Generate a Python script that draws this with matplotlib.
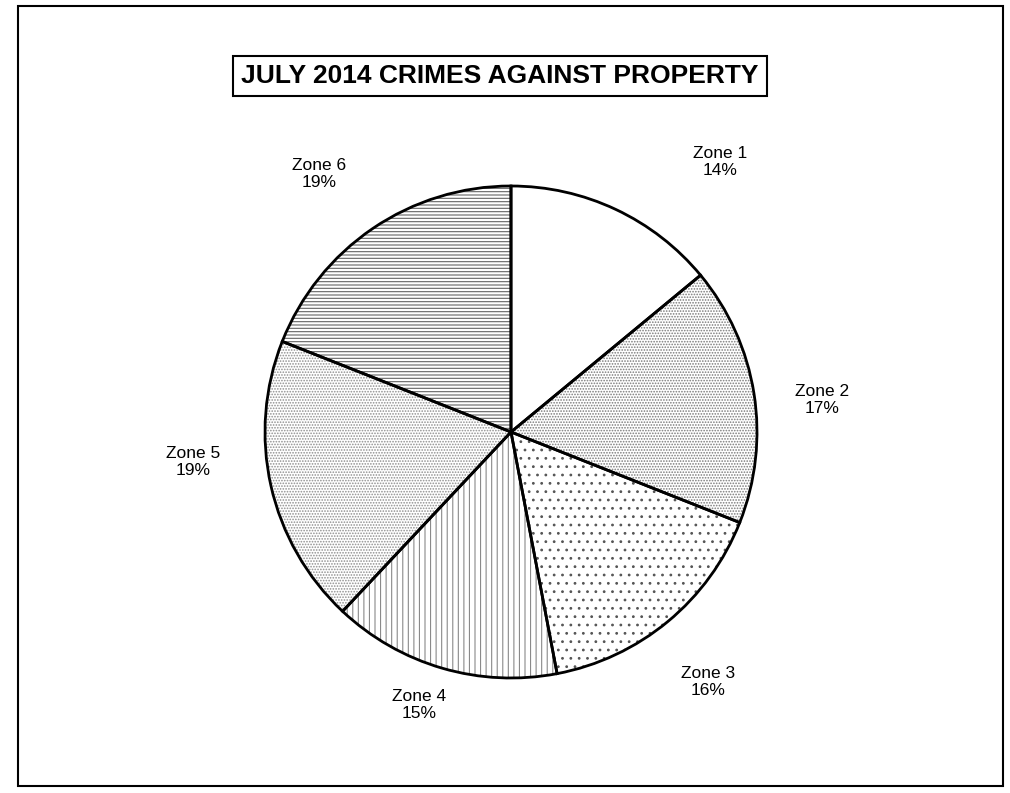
import matplotlib.pyplot as plt
from matplotlib.patches import Rectangle

plt.rcParams['font.family'] = ['Liberation Sans', 'DejaVu Sans']

# data
zones = ['Zone 1', 'Zone 2', 'Zone 3', 'Zone 4', 'Zone 5', 'Zone 6']
shares = [14, 17, 16, 15, 19, 19]
title = 'JULY 2014 CRIMES AGAINST PROPERTY'

# styling per wedge
hatches = ['', '......', '..', '|||', '......', '-----']
hatch_cols = ['white', '#7a7a7a', '#555555', '#8a8a8a', '#8f8f8f', '#666666']
label_pos = [(720, 162), (822, 400), (708, 682), (419, 705), (193, 462), (319, 174)]

W, H = 1010, 793
fig = plt.figure(figsize=(W / 100, H / 100), dpi=100)
ax = fig.add_axes([0, 0, 1, 1])
ax.set_xlim(0, W)
ax.set_ylim(0, H)
ax.set_aspect('equal')
ax.axis('off')

cx, cy, r = 511, H - 432, 246

plt.rcParams['hatch.linewidth'] = 0.8
# hatched fills, one pass per wedge so each gets its own hatch colour
for i in range(len(shares)):
    plt.rcParams['hatch.color'] = hatch_cols[i]
    w, _ = ax.pie(shares, center=(cx, cy), radius=r, startangle=90,
                  counterclock=False, frame=True,
                  colors=['none'] * len(shares),
                  wedgeprops=dict(linewidth=0))
    for j, p in enumerate(w):
        if j == i:
            p.set_facecolor('white')
            p.set_hatch(hatches[i])
            p.set_edgecolor(hatch_cols[i])
            p.set_linewidth(0)
        else:
            p.remove()

# outlines
ax.pie(shares, center=(cx, cy), radius=r, startangle=90, counterclock=False,
       frame=True, colors=['none'] * len(shares),
       wedgeprops=dict(edgecolor='black', linewidth=2))
ax.set_xlim(0, W)
ax.set_ylim(0, H)
ax.axis('off')

for z, s, (x, y) in zip(zones, shares, label_pos):
    ax.text(x, H - y, f'{z}\n{s}%', ha='center', va='center', fontsize=12.5,
            linespacing=1.15)

# title box
ax.text(500, H - 76, title, ha='center', va='center', fontsize=19,
        fontweight='bold',
        bbox=dict(boxstyle='square,pad=0.3', facecolor='white',
                  edgecolor='black', linewidth=1.5))

# outer frame
ax.add_patch(Rectangle((18, H - 786), 985, 780, fill=False,
                       edgecolor='black', linewidth=1.5))

fig.savefig('out.png', dpi=100)
